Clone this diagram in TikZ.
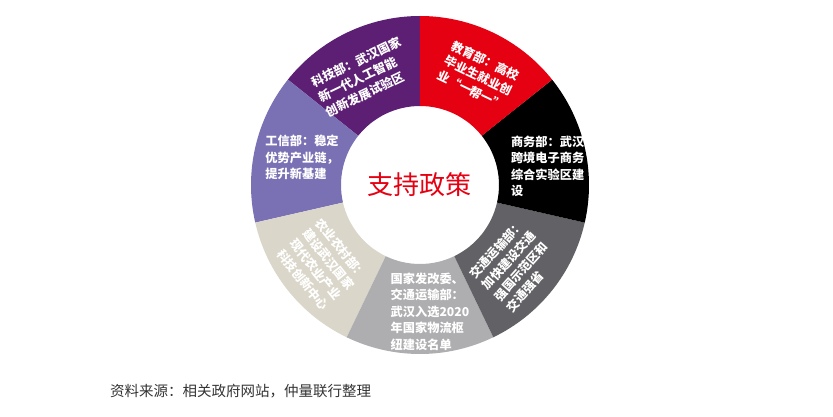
\documentclass[tikz,border=0pt]{standalone}
\usepackage{fontspec}
\usepackage{xcolor}
\usepackage{tikz}
\newfontfamily\cjk{Noto Sans CJK SC}
\definecolor{kejicolor}{HTML}{5C1F74}
\definecolor{gongxincolor}{HTML}{7A70B4}
\definecolor{nongyecolor}{HTML}{DAD6C9}
\definecolor{fagaicolor}{HTML}{AEAEB1}
\definecolor{jiaotongcolor}{HTML}{626266}
\definecolor{shangwucolor}{HTML}{000000}
\definecolor{jiaoyucolor}{HTML}{E50012}
\definecolor{titlecolor}{HTML}{E60012}
\definecolor{ink}{HTML}{333333}
\tikzset{
  segtext/.style={
    text=white,
    font=\cjk\bfseries\fontsize{12.2}{16.5}\selectfont,
    align=left,
    inner sep=0pt
  },
  titletext/.style={
    text=titlecolor,
    font=\cjk\fontsize{26}{30}\selectfont,
    inner sep=0pt
  },
  notetext/.style={
    text=ink,
    font=\cjk\fontsize{14.5}{17}\selectfont,
    inner sep=0pt
  }
}

\begin{document}
\begin{tikzpicture}[x=1pt,y=1pt]
  \useasboundingbox (-420,-232) rectangle (413,185);
  % ring segments, counterclockwise from the top
  \fill[kejicolor] (90:79) arc[start angle=90,end angle=141.43,radius=79] -- (141.43:169) arc[start angle=141.43,end angle=90,radius=169] -- cycle;
  \fill[gongxincolor] (141.43:79) arc[start angle=141.43,end angle=192.86,radius=79] -- (192.86:169) arc[start angle=192.86,end angle=141.43,radius=169] -- cycle;
  \fill[nongyecolor] (192.86:79) arc[start angle=192.86,end angle=244.29,radius=79] -- (244.29:169) arc[start angle=244.29,end angle=192.86,radius=169] -- cycle;
  \fill[fagaicolor] (244.29:79) arc[start angle=244.29,end angle=295.71,radius=79] -- (295.71:169) arc[start angle=295.71,end angle=244.29,radius=169] -- cycle;
  \fill[jiaotongcolor] (295.71:79) arc[start angle=295.71,end angle=347.14,radius=79] -- (347.14:169) arc[start angle=347.14,end angle=295.71,radius=169] -- cycle;
  \fill[shangwucolor] (347.14:79) arc[start angle=347.14,end angle=398.57,radius=79] -- (398.57:169) arc[start angle=398.57,end angle=347.14,radius=169] -- cycle;
  \fill[jiaoyucolor] (398.57:79) arc[start angle=398.57,end angle=450,radius=79] -- (450:169) arc[start angle=450,end angle=398.57,radius=169] -- cycle;

  \node[titletext] (title) at (0,0) {支持政策};

  \node[segtext, rotate=25.7] (keji) at (117.5:122) {科技部：武汉国家\\新一代人工智能\\创新发展试验区};
  \node[segtext, rotate=-25.7] (jiaoyu) at (62:124) {教育部：高校\\毕业生就业创\\业“一帮一”};
  \node[segtext] (shangwu) at (8.4:129) {商务部：武汉\\跨境电子商务\\综合实验区建\\设};
  \node[segtext, rotate=48] (jiaotong) at (-40.5:125) {交通运输部：\\加快建设交通\\强国示范区和\\交通强省};
  \node[segtext] (fagai) at (-85.5:127) {国家发改委、\\交通运输部：\\武汉入选2020\\年国家物流枢\\纽建设名单};
  \node[segtext, rotate=-51.4] (nongye) at (219:126) {农业农村部：\\建设武汉国家\\现代农业产业\\科技创新中心};
  \node[segtext] (gongxin) at (167:121) {工信部：稳定\\优势产业链，\\提升新基建};

  \node[notetext, anchor=west] (source) at (-310,-206) {资料来源：相关政府网站，仲量联行整理};
\end{tikzpicture}
\end{document}
